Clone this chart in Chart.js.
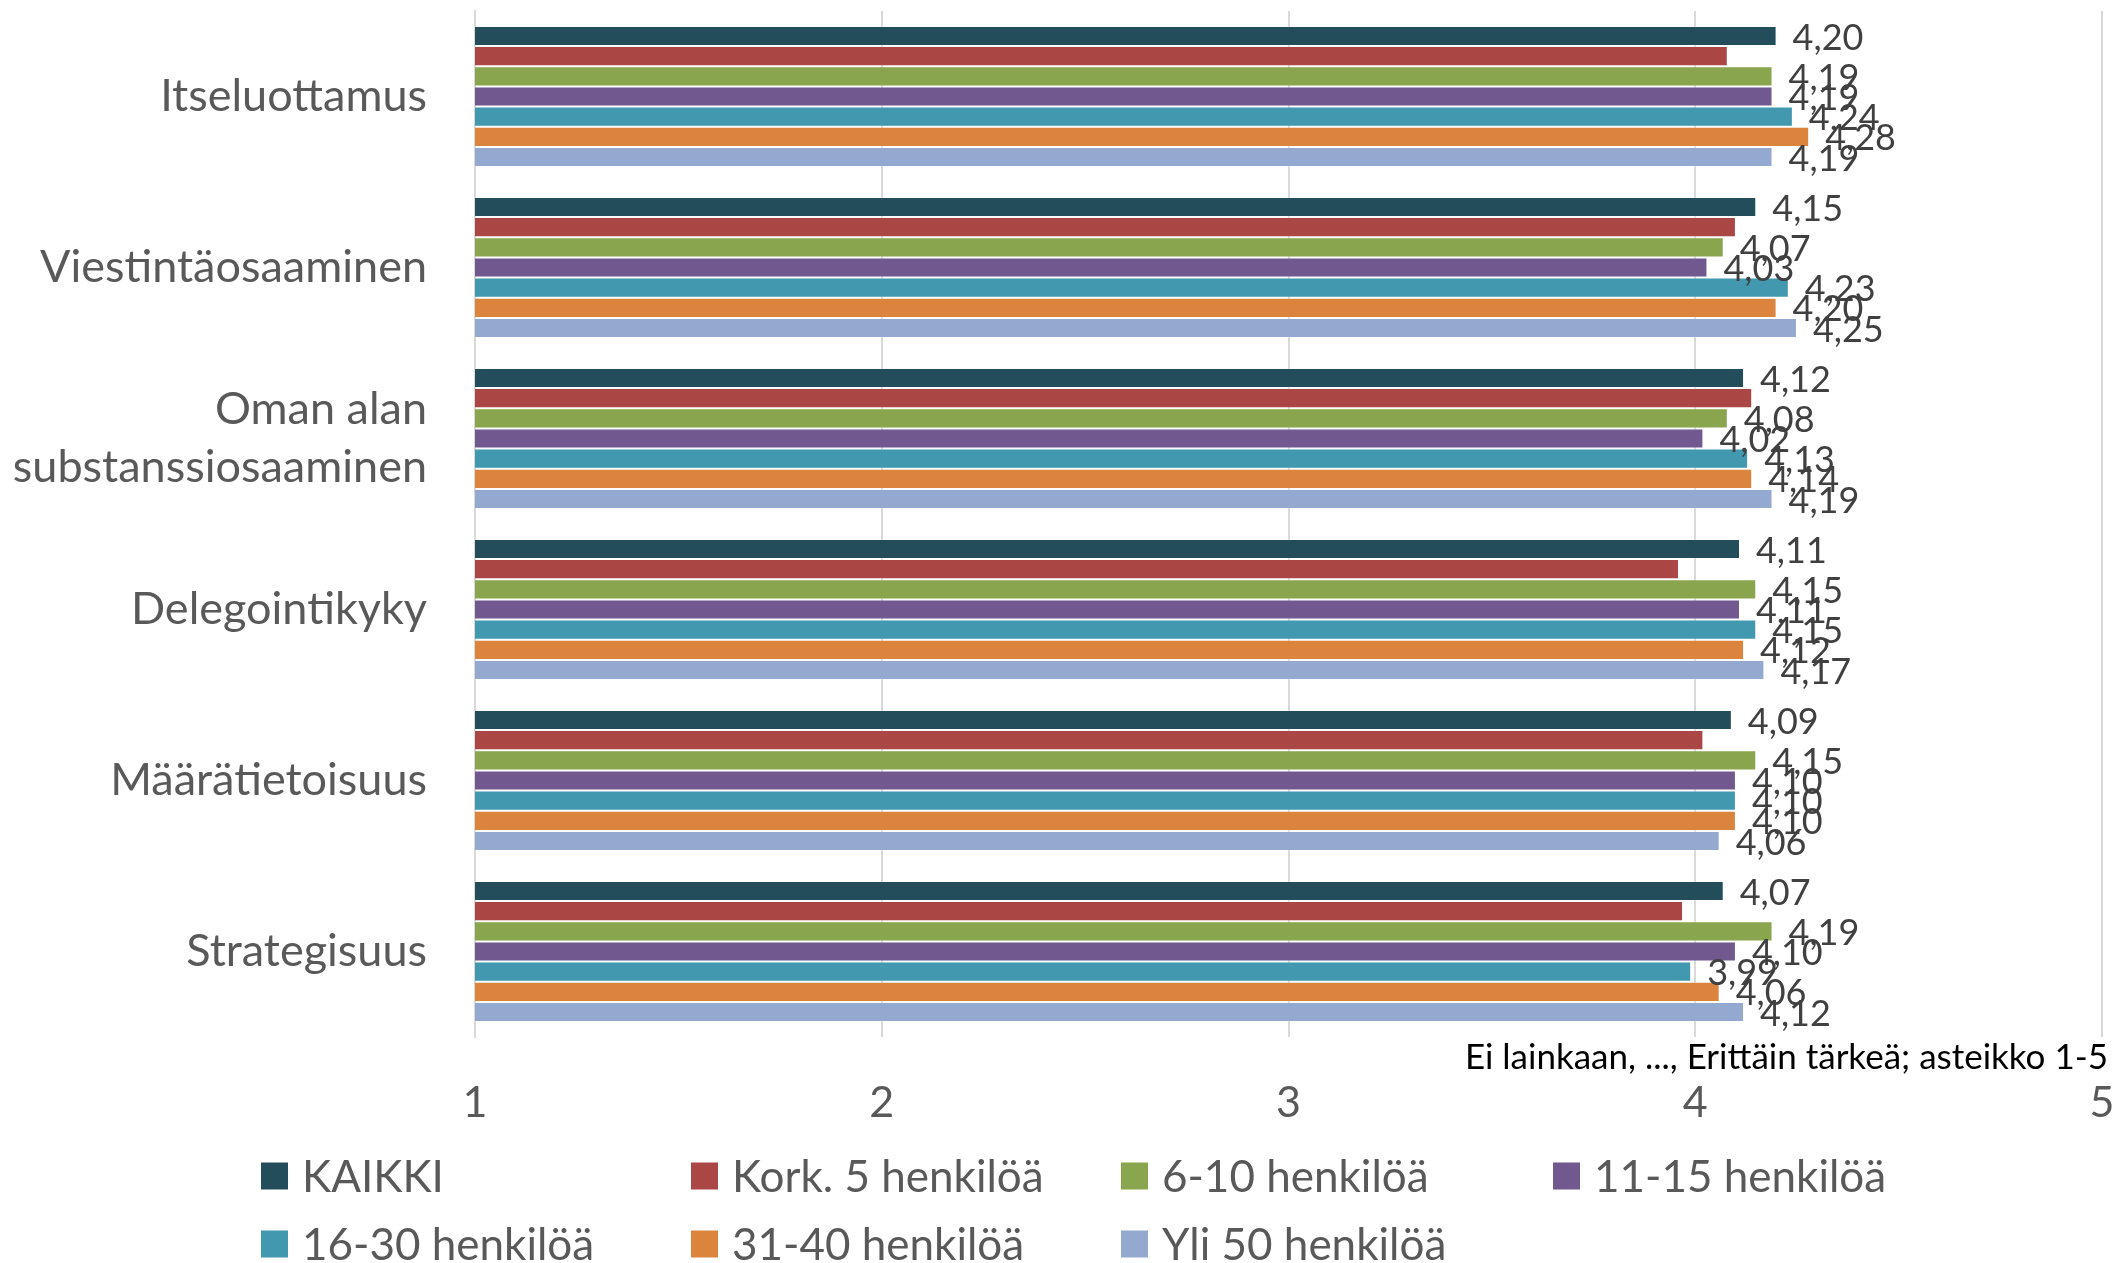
<!DOCTYPE html>
<html lang="fi">
<head>
<meta charset="utf-8">
<title>Osaamisalueiden tärkeys henkilöstömäärän mukaan</title>
<script src="https://cdn.jsdelivr.net/npm/chart.js@4/dist/chart.umd.min.js"></script>
<style>
  html, body { margin: 0; padding: 0; background: #ffffff; }
  #wrap { width: 2114px; height: 1263px; position: relative; }
  canvas { display: block; }
</style>
</head>
<body>
<div id="wrap"><canvas id="chart" width="2114" height="1263"></canvas></div>
<script>
// Osaamisalueet (kategoriat)
const categories = [
  'Itseluottamus',
  'Viestintäosaaminen',
  ['Oman alan', 'substanssiosaaminen'],
  'Delegointikyky',
  'Määrätietoisuus',
  'Strategisuus'
];

// Keskiarvot asteikolla 1-5
const kaikki   = [4.20, 4.15, 4.12, 4.11, 4.09, 4.07];
const kork5    = [4.08, 4.10, 4.14, 3.96, 4.02, 3.97];
const h6_10    = [4.19, 4.07, 4.08, 4.15, 4.15, 4.19];
const h11_15   = [4.19, 4.03, 4.02, 4.11, 4.10, 4.10];
const h16_30   = [4.24, 4.23, 4.13, 4.15, 4.10, 3.99];
const h31_40   = [4.28, 4.20, 4.14, 4.12, 4.10, 4.06];
const yli50    = [4.19, 4.25, 4.19, 4.17, 4.06, 4.12];

const seriesNames = ['KAIKKI', 'Kork. 5 henkilöä', '6-10 henkilöä', '11-15 henkilöä',
                     '16-30 henkilöä', '31-40 henkilöä', 'Yli 50 henkilöä'];
const seriesValues = [kaikki, kork5, h6_10, h11_15, h16_30, h31_40, yli50];
// Arvotunnisteet näytetään kaikille muille paitsi pienimmille yrityksille
const seriesLabelled = [true, false, true, true, true, true, true];

// Asteikon arvot ja selite
const xTicks = [1, 2, 3, 4, 5];
const scaleNote = 'Ei lainkaan, ..., Erittäin tärkeä; asteikko 1-5';

const colors = ['#234D5A', '#AA4744', '#89A54E', '#71588F', '#4198AF', '#DB843D', '#93A9CF'];

const FONT = 'Lato, "Open Sans", "DejaVu Sans", sans-serif';

const datasets = seriesNames.map((name, i) => ({
  label: name,
  data: seriesValues[i],
  backgroundColor: colors[i],
  borderColor: 'rgba(255,255,255,0.25)',
  borderWidth: 1,
  categoryPercentage: 0.825,
  barPercentage: 1.0,
  showValues: seriesLabelled[i]
}));

// Arvotunnisteet palkkien oikealle puolelle
const valueLabels = {
  id: 'valueLabels',
  afterDatasetsDraw(chart) {
    const ctx = chart.ctx;
    ctx.save();
    ctx.font = '36px ' + FONT;
    ctx.fillStyle = '#404040';
    ctx.textAlign = 'left';
    ctx.textBaseline = 'middle';
    chart.data.datasets.forEach((ds, di) => {
      if (!ds.showValues) return;
      const meta = chart.getDatasetMeta(di);
      meta.data.forEach((bar, j) => {
        const v = ds.data[j];
        ctx.fillText(v.toFixed(2).replace('.', ','), bar.x + 16, bar.y + 2);
      });
    });
    ctx.restore();
  }
};

// Asteikon selite ja sarakkeittainen selite kaavion alle
const bottomLegend = {
  id: 'bottomLegend',
  afterDraw(chart) {
    const ctx = chart.ctx;
    const area = chart.chartArea;
    ctx.save();
    ctx.font = '35px ' + FONT;
    ctx.fillStyle = '#000000';
    ctx.textAlign = 'right';
    ctx.textBaseline = 'middle';
    ctx.fillText(scaleNote, chart.width - 6, area.bottom + 21);

    const colX = [261, 691, 1121, 1553];
    const rowY = [1176, 1244];
    const box = 27;
    ctx.font = '44px ' + FONT;
    ctx.textAlign = 'left';
    chart.data.datasets.forEach((ds, i) => {
      const x = colX[i % 4];
      const y = rowY[Math.floor(i / 4)];
      ctx.fillStyle = ds.backgroundColor;
      ctx.fillRect(x, y - box / 2, box, box);
      ctx.fillStyle = '#595959';
      ctx.fillText(ds.label, x + box + 14, y + 2);
    });
    ctx.restore();
  }
};

function zeroPadding(scale) {
  scale.paddingTop = 0;
  scale.paddingBottom = 0;
  scale.paddingLeft = 0;
  scale.paddingRight = 0;
}

new Chart(document.getElementById('chart'), {
  type: 'bar',
  data: { labels: categories, datasets },
  options: {
    indexAxis: 'y',
    responsive: false,
    animation: false,
    layout: { padding: { top: 11, right: 12, left: 0, bottom: 0 } },
    plugins: {
      legend: { display: false },
      tooltip: { enabled: false }
    },
    scales: {
      x: {
        type: 'linear',
        min: xTicks[0],
        max: xTicks[xTicks.length - 1],
        afterBuildTicks(scale) { scale.ticks = xTicks.map(v => ({ value: v })); },
        afterFit(scale) { scale.height = 226; zeroPadding(scale); },
        grid: { color: '#D9D9D9', lineWidth: 2, drawTicks: false },
        border: { display: false },
        ticks: {
          padding: 40,
          color: '#595959',
          font: { family: FONT, size: 43 },
          maxRotation: 0
        }
      },
      y: {
        type: 'category',
        afterFit(scale) { scale.width = 475; zeroPadding(scale); },
        grid: { display: false, drawTicks: false },
        border: { display: true, color: '#D9D9D9', width: 2 },
        ticks: {
          padding: 48,
          color: '#595959',
          font: { family: FONT, size: 45, lineHeight: 1.3 }
        }
      }
    }
  },
  plugins: [valueLabels, bottomLegend]
});
</script>
</body>
</html>
